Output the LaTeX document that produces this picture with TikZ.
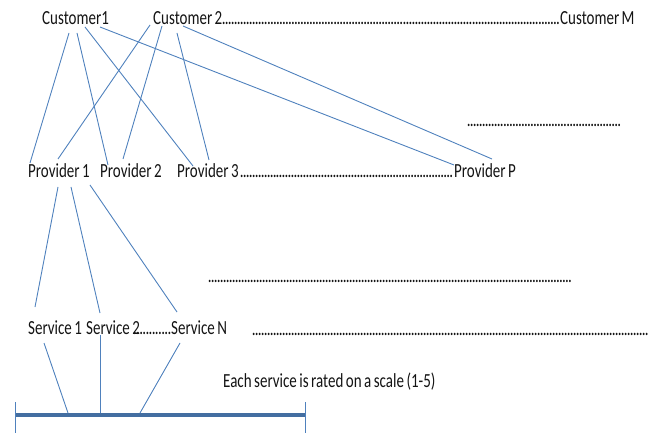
\documentclass[tikz,border=0pt]{standalone}
\usepackage{fontspec}
\setmainfont{Carlito}[FakeStretch=0.75]
\usetikzlibrary{calc}
\definecolor{linkblue}{RGB}{79,129,189}
\definecolor{txt}{RGB}{20,20,20}
\newcommand\dotrow[1]{\hbox to #1{\xleaders\hbox to 3pt{\hss.\hss}\hfill}}
\newcommand\lblfont{\fontsize{20pt}{22pt}\selectfont\spaceskip=2.5pt plus 1pt\relax}
\tikzset{
  lbl/.style={anchor=base west,inner sep=0pt,text=txt,font=\lblfont},
  link/.style={draw=linkblue,line width=0.9pt},
  scalebar/.style={draw=linkblue!85!black,line width=3.5pt}
}
\begin{document}
\begin{tikzpicture}[x=1pt,y=-1pt]
\useasboundingbox (0,0) rectangle (660,435);
% customers
\node[lbl] (c1) at (42,25) {Customer1};
\node[lbl] (c2) at (153,25) {Customer 2};
\node[lbl] (cdots) at (222,25) {\dotrow{338pt}};
\node[lbl] (cM) at (560,25) {Customer M};
\node[lbl] (mdots) at (467,127) {\dotrow{154pt}};
% providers
\node[lbl] (p1) at (28,178) {Provider 1};
\node[lbl] (p2) at (100,178) {Provider 2};
\node[lbl] (p3) at (177,178) {Provider 3};
\node[lbl] (pdots) at (240,178) {\dotrow{213pt}};
\node[lbl] (pP) at (454,178) {Provider P};
\node[lbl] (sdots) at (208,282) {\dotrow{364pt}};
% services
\node[lbl] (s1) at (28,334) {Service 1};
\node[lbl] (s2) at (86,334) {Service 2};
\node[lbl] (ndots) at (133,334) {\dotrow{38pt}};
\node[lbl] (sN) at (171,334) {Service N};
\node[lbl] (tdots) at (252,335) {\dotrow{397pt}};
\node[lbl] (note) at (223,387) {Each service is rated on a scale (1-5)};
% rating scale
\coordinate (bl) at (15,415);
\coordinate (br) at (305,415);
\draw[scalebar] (bl) -- (br);
\draw[link] ($(bl)+(0,-13)$) -- ($(bl)+(0,18)$);
\draw[link] ($(br)+(0,-13)$) -- ($(br)+(0,18)$);
% customer -> provider
\draw[link] ($(c1.base west)+(27,8)$) -- ($(p1.base west)+(2,-15)$);
\draw[link] ($(c1.base west)+(35,8)$) -- ($(p2.base west)+(8,-13)$);
\draw[link] ($(c1.base west)+(43,2)$) -- ($(p3.base west)+(16,-12)$);
\draw[link] ($(c1.base west)+(58,2)$) -- ($(pP.base west)+(0,-13)$);
\draw[link] ($(c2.base west)+(-3,0)$) -- ($(p1.base west)+(30,-19)$);
\draw[link] ($(c2.base west)+(9,1)$) -- ($(p2.base west)+(23,-19)$);
\draw[link] ($(c2.base west)+(24,8)$) -- ($(p3.base west)+(32,-18)$);
\draw[link] ($(c2.base west)+(30,1)$) -- ($(pP.base west)+(38,-19)$);
% provider -> service
\draw[link] ($(p1.base west)+(30,9)$) -- ($(s1.base west)+(7,-27)$);
\draw[link] ($(p1.base west)+(43,9)$) -- ($(s2.base west)+(14,-21)$);
\draw[link] ($(p1.base west)+(62,7)$) -- ($(sN.base west)+(6,-22)$);
% service -> scale
\draw[link] ($(s1.base west)+(16,9)$) -- ($(bl)+(53,-2)$);
\draw[link] ($(s2.base west)+(14,1)$) -- ($(bl)+(85,-2)$);
\draw[link] ($(sN.base west)+(9,9)$) -- ($(bl)+(125,-2)$);
\end{tikzpicture}
\end{document}
